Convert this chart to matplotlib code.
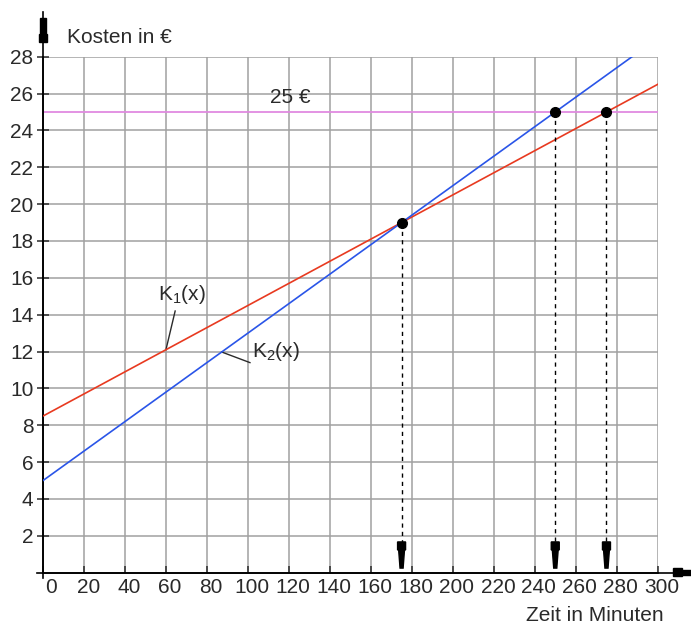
import numpy as np
import matplotlib.pyplot as plt
import matplotlib.transforms as mtransforms

plt.rcParams['font.family'] = ['Liberation Sans', 'DejaVu Sans']
plt.rcParams['mathtext.fontset'] = 'custom'
plt.rcParams['mathtext.rm'] = 'Liberation Sans'

# Daten
x_ticks   = list(range(0, 301, 20))
y_ticks   = list(range(2, 29, 2))
k1_start, k1_slope = 8.5, 0.06     # K1(x) = 8.5 + 0.06x
k2_start, k2_slope = 5.0, 0.08     # K2(x) = 5 + 0.08x
limit     = 25                      # 25 Euro
pts_x     = [175, 250, 275]
pts_y     = [19, 25, 25]

txt_col = '#2a2a2a'
fs = 15

fig = plt.figure(figsize=(6.91, 6.25), dpi=100)
ax = fig.add_axes([43/691, (625-572.7)/625, 614.7/691, 516/625])
ax.set_xlim(0, 300)
ax.set_ylim(0, 28)

#Gitter
ax.set_xticks(x_ticks)
ax.set_yticks(y_ticks)
ax.grid(color='#a0a0a0', lw=1.1, zorder=0)
for s in ['top', 'right']:
    ax.spines[s].set_visible(False)
for s in ['left', 'bottom']:
    ax.spines[s].set_linewidth(1.2)
    ax.spines[s].set_zorder(3)
ax.tick_params(axis='y', direction='inout', length=8, width=1.1, pad=3, labelsize=fs, colors=txt_col)
ax.tick_params(axis='x', direction='in', length=5, width=1.1, pad=4, labelsize=fs, colors=txt_col)
for i, lab in enumerate(ax.get_xticklabels()):
    dx = 6/72 if i == 0 else 3/72
    lab.set_transform(lab.get_transform() + mtransforms.ScaledTranslation(dx, 0, fig.dpi_scale_trans))

#Achsen verlaengern + Pfeile
ax.plot([0, 0], [-0.3, 30.4], color='black', lw=1.2, clip_on=False, zorder=3)
ax.plot([-3, 311], [0, 0], color='black', lw=1.2, clip_on=False, zorder=3)
# Pfeil y-Achse (oben)
ax.fill([-1.95, 1.95, 1.95, 1.35, 1.35, -1.35, -1.35, -1.95],
        [28.81, 28.81, 29.21, 29.21, 30.08, 30.08, 29.21, 29.21],
        color='black', clip_on=False, zorder=5)
# Pfeil x-Achse (rechts)
ax.fill([307.6, 312.0, 312.0, 316.4, 316.4, 312.0, 312.0, 307.6],
        [-0.2, -0.2, -0.13, -0.13, 0.14, 0.14, 0.23, 0.23],
        color='black', clip_on=False, zorder=5)

#Geraden
x1 = np.array([0, 300])
ax.plot(x1, k1_start + k1_slope*x1, color='#e83a20', lw=1.2, zorder=4)
x2 = np.array([0, (28 - k2_start)/k2_slope])
ax.plot(x2, k2_start + k2_slope*x2, color='#2a55e8', lw=1.2, zorder=4)
ax.axhline(limit, color='#e08ae0', lw=1.3, zorder=2)

#Punkte und gestrichelte Linien mit Pfeilen
for px, py in zip(pts_x, pts_y):
    ax.plot([px, px], [py, 1.67], color='black', lw=1.0, ls=(0, (3, 3)), zorder=4)
    ax.fill([px-1.95, px+1.95, px+1.95, px+1.4, px+0.75, px-0.75, px-1.4, px-1.95],
            [1.67, 1.67, 1.25, 1.2, 0.25, 0.25, 1.2, 1.25],
            color='black', zorder=5)
ax.plot(pts_x, pts_y, 'o', color='black', ms=7, zorder=6)

#Beschriftung
ax.text(11.7, 29.05, 'Kosten in €', fontsize=fs, color=txt_col, va='center', ha='left', clip_on=False)
ax.text(302.7, -2.3, 'Zeit in Minuten', fontsize=fs, color=txt_col, va='center', ha='right', clip_on=False)
ax.text(111, 25.8, '25 €', fontsize=fs, color=txt_col, va='center', ha='left')
ax.text(56, 15.1, r'K$_\mathregular{1}$(x)', fontsize=fs, color=txt_col, va='center', ha='left')
ax.plot([60, 64.5], [k1_start + k1_slope*60, 14.2], color=txt_col, lw=1)
ax.text(102, 12.0, r'K$_\mathregular{2}$(x)', fontsize=fs, color=txt_col, va='center', ha='left')
ax.plot([87.2, 101], [k2_start + k2_slope*87.2, 11.4], color=txt_col, lw=1)

fig.savefig('out.png', dpi=100)
